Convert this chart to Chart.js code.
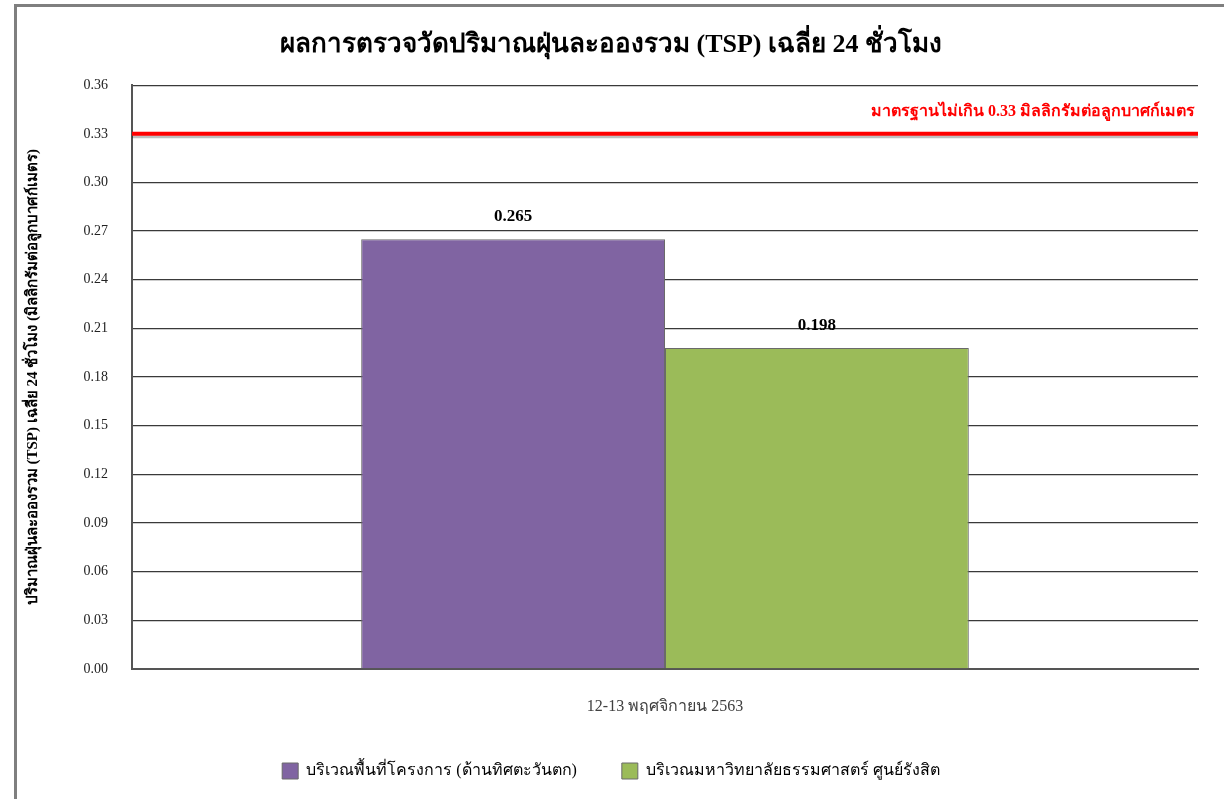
<!DOCTYPE html>
<html>
<head>
<meta charset="utf-8">
<script src="https://cdn.jsdelivr.net/npm/chart.js@4.4.0/dist/chart.umd.min.js"></script>
<style>
  html, body { margin: 0; padding: 0; background: #fff; }
  #wrap { position: relative; width: 1224px; height: 799px; }
  #frame { position: absolute; left: 14px; top: 4px; width: 1210px; height: 795px;
           border-top: 3px solid #7f7f7f; border-left: 3px solid #7f7f7f; box-sizing: border-box; }
  canvas { position: absolute; left: 0; top: 0; }
</style>
</head>
<body>
<div id="wrap">
  <div id="frame"></div>
  <canvas id="grafico" width="1224" height="799"></canvas>
</div>
<script>
// ข้อมูลของกราฟ
const categories = ['12-13 พฤศจิกายน 2563'];
const seriesNames = ['บริเวณพื้นที่โครงการ (ด้านทิศตะวันตก)', 'บริเวณมหาวิทยาลัยธรรมศาสตร์ ศูนย์รังสิต'];
const projectArea = [0.265];
const universityArea = [0.198];
const yTicks = [0.00, 0.03, 0.06, 0.09, 0.12, 0.15, 0.18, 0.21, 0.24, 0.27, 0.30, 0.33, 0.36];
const standardValue = 0.33;
const standardLabel = 'มาตรฐานไม่เกิน 0.33 มิลลิกรัมต่อลูกบาศก์เมตร';

const serif = '"Liberation Serif", "Times New Roman", serif';

// เส้นมาตรฐาน + ป้ายค่าบนแท่ง
const overlayPlugin = {
  id: 'overlay',
  afterDatasetsDraw(chart) {
    const ctx = chart.ctx;
    const y = chart.scales.y;
    const area = chart.chartArea;
    const ly = y.getPixelForValue(standardValue);

    ctx.save();
    // เงาของเส้น
    ctx.strokeStyle = 'rgba(0,0,0,0.25)';
    ctx.lineWidth = 3;
    ctx.beginPath();
    ctx.moveTo(area.left, ly + 3);
    ctx.lineTo(area.right, ly + 3);
    ctx.stroke();
    ctx.strokeStyle = '#ff0000';
    ctx.lineWidth = 4;
    ctx.beginPath();
    ctx.moveTo(area.left, ly);
    ctx.lineTo(area.right, ly);
    ctx.stroke();

    ctx.fillStyle = '#ff0000';
    ctx.font = 'bold 16px ' + serif;
    ctx.textAlign = 'right';
    ctx.textBaseline = 'middle';
    ctx.fillText(standardLabel, area.right - 3, (area.top + ly) / 2 + 2);

    // ค่าบนแท่ง
    ctx.fillStyle = '#000';
    ctx.font = 'bold 17px ' + serif;
    ctx.textAlign = 'center';
    ctx.textBaseline = 'bottom';
    chart.data.datasets.forEach((ds, i) => {
      chart.getDatasetMeta(i).data.forEach((bar, j) => {
        ctx.fillText(ds.data[j].toFixed(3), bar.x, bar.y - 14);
      });
    });
    ctx.restore();
  }
};

new Chart(document.getElementById('grafico'), {
  type: 'bar',
  data: {
    labels: categories,
    datasets: [
      {
        label: seriesNames[0],
        data: projectArea,
        backgroundColor: '#8064a2',
        borderColor: '#6a6a6a',
        borderWidth: 1
      },
      {
        label: seriesNames[1],
        data: universityArea,
        backgroundColor: '#9bbb59',
        borderColor: '#6a6a6a',
        borderWidth: 1
      }
    ]
  },
  options: {
    responsive: false,
    animation: false,
    layout: { padding: { left: 24, right: 26, top: 8, bottom: 10 } },
    datasets: { bar: { barPercentage: 1, categoryPercentage: 0.57 } },
    plugins: {
      title: {
        display: true,
        text: 'ผลการตรวจวัดปริมาณฝุ่นละอองรวม (TSP) เฉลี่ย 24 ชั่วโมง',
        color: '#000',
        font: { family: serif, size: 26, weight: 'bold' },
        padding: { top: 22, bottom: 24 }
      },
      legend: {
        position: 'bottom',
        labels: {
          color: '#000',
          font: { family: serif, size: 16 },
          boxWidth: 16,
          boxHeight: 16,
          padding: 45
        }
      },
      tooltip: { enabled: false }
    },
    scales: {
      x: {
        grid: { display: false, drawTicks: false },
        border: { display: true, color: '#555', width: 2 },
        ticks: { color: '#404040', font: { family: serif, size: 16 }, padding: 28 },
        afterFit(scale) { scale.height = 49; }
      },
      y: {
        min: 0,
        max: 0.36,
        afterBuildTicks(scale) { scale.ticks = yTicks.map(v => ({ value: v })); },
        ticks: {
          color: '#222',
          font: { family: serif, size: 14 },
          padding: 24,
          callback: v => v.toFixed(2)
        },
        grid: { color: '#3a3a3a', lineWidth: 1.3, drawTicks: false },
        border: { display: true, color: '#555', width: 2 },
        title: {
          display: true,
          text: 'ปริมาณฝุ่นละอองรวม (TSP) เฉลี่ย 24 ชั่วโมง (มิลลิกรัมต่อลูกบาศก์เมตร)',
          color: '#000',
          font: { family: serif, size: 15, weight: 'bold' },
          padding: 0
        },
        afterFit(scale) { scale.width = 108; }
      }
    }
  },
  plugins: [overlayPlugin]
});
</script>
</body>
</html>
